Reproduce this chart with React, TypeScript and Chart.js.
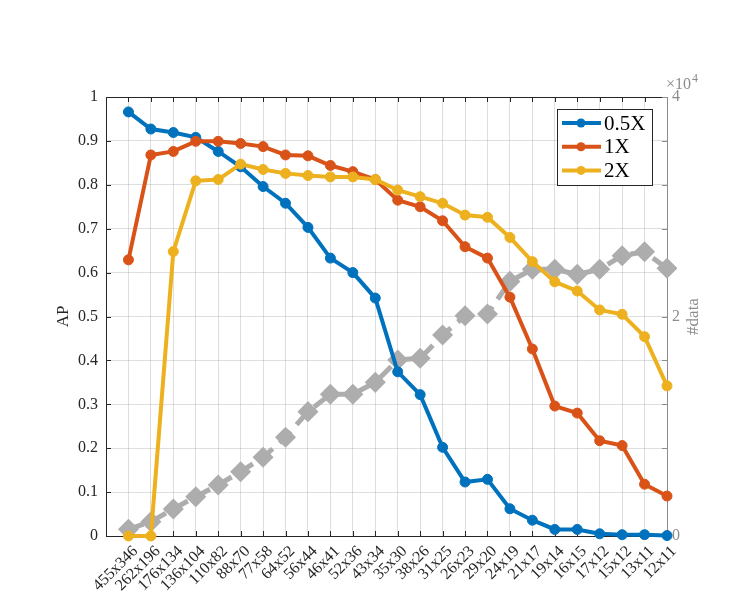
import React, { useEffect, useRef } from 'react';
import { Chart, registerables } from 'chart.js';

Chart.register(...registerables);

const categories = [
  '455x346', '262x196', '176x134', '136x104', '110x82', '88x70', '77x58', '64x52',
  '56x44', '46x41', '52x36', '43x34', '35x30', '38x26', '31x25', '26x23', '29x20',
  '24x19', '21x17', '19x14', '16x15', '17x12', '15x12', '13x11', '12x11',
];

const ap05 = [0.966, 0.927, 0.919, 0.908, 0.876, 0.841, 0.796, 0.758, 0.703, 0.633, 0.600, 0.542,
  0.374, 0.322, 0.202, 0.123, 0.129, 0.062, 0.036, 0.015, 0.015, 0.005, 0.003, 0.003, 0.001];
const ap1 = [0.629, 0.868, 0.876, 0.899, 0.899, 0.894, 0.887, 0.868, 0.866, 0.844, 0.830, 0.812,
  0.765, 0.750, 0.718, 0.659, 0.633, 0.544, 0.426, 0.296, 0.280, 0.217, 0.206, 0.118, 0.091];
const ap2 = [0.0, 0.0, 0.648, 0.809, 0.812, 0.847, 0.835, 0.826, 0.821, 0.818, 0.818, 0.812,
  0.788, 0.773, 0.758, 0.731, 0.726, 0.680, 0.625, 0.579, 0.558, 0.515, 0.505, 0.454, 0.342];
// number of samples, in units of 1e4
const numData = [0.061, 0.130, 0.246, 0.358, 0.465, 0.586, 0.717, 0.899, 1.133, 1.291, 1.291, 1.400,
  1.604, 1.619, 1.831, 2.007, 2.023, 2.320, 2.430, 2.430, 2.384, 2.430, 2.554, 2.590, 2.439];

const seriesNames = ['0.5X', '1X', '2X'];
const seriesColors = ['#0072BD', '#D95319', '#EDB120'];
const grayColor = '#adadad';
const rightTickLabels = [0, 2, 4];

const FONT = "'Liberation Serif', 'Times New Roman', serif";

const toPoints = (arr: number[]) => arr.map((v, i) => ({ x: i, y: v }));

const decorPlugin = {
  id: 'decor',
  beforeDatasetsDraw(chart: any) {
    const { ctx, chartArea: a, scales } = chart;
    const xs = scales.x, ys = scales.y, y2 = scales.y2;
    ctx.save();
    ctx.lineWidth = 1;
    ctx.strokeStyle = '#262626';
    ctx.beginPath();
    ys.ticks.forEach((t: any) => {
      const py = Math.round(ys.getPixelForValue(t.value)) + 0.5;
      ctx.moveTo(a.left, py); ctx.lineTo(a.left + 5, py);
    });
    for (let i = 0; i < categories.length; i++) {
      const px = Math.round(xs.getPixelForValue(i)) + 0.5;
      ctx.moveTo(px, a.top); ctx.lineTo(px, a.top + 5);
      ctx.moveTo(px, a.bottom); ctx.lineTo(px, a.bottom - 5);
    }
    ctx.stroke();
    ctx.beginPath();
    ctx.moveTo(Math.round(a.right) + 0.5, Math.round(a.top) + 0.5);
    ctx.lineTo(Math.round(a.left) + 0.5, Math.round(a.top) + 0.5);
    ctx.lineTo(Math.round(a.left) + 0.5, Math.round(a.bottom) + 0.5);
    ctx.lineTo(Math.round(a.right) + 0.5, Math.round(a.bottom) + 0.5);
    ctx.stroke();
    ctx.strokeStyle = '#8c8c8c';
    ctx.beginPath();
    ctx.moveTo(Math.round(a.right) + 0.5, a.top);
    ctx.lineTo(Math.round(a.right) + 0.5, a.bottom);
    y2.ticks.forEach((t: any) => {
      const py = Math.round(y2.getPixelForValue(t.value)) + 0.5;
      ctx.moveTo(a.right, py); ctx.lineTo(a.right - 5, py);
    });
    ctx.stroke();
    ctx.restore();
  },
  afterDraw(chart: any) {
    const { ctx, chartArea: a } = chart;
    ctx.save();
    ctx.fillStyle = '#262626';
    ctx.font = `17px ${FONT}`;
    ctx.textAlign = 'center';
    ctx.textBaseline = 'middle';
    ctx.translate(64, (a.top + a.bottom) / 2);
    ctx.rotate(-Math.PI / 2);
    ctx.fillText('AP', 0, 0);
    ctx.restore();

    ctx.save();
    ctx.fillStyle = '#8c8c8c';
    ctx.font = `17px ${FONT}`;
    ctx.textAlign = 'center';
    ctx.textBaseline = 'middle';
    ctx.translate(694, (a.top + a.bottom) / 2);
    ctx.rotate(-Math.PI / 2);
    ctx.fillText('#data', 0, 0);
    ctx.restore();

    ctx.save();
    ctx.fillStyle = '#8c8c8c';
    ctx.font = `16px ${FONT}`;
    ctx.textAlign = 'left';
    ctx.textBaseline = 'alphabetic';
    ctx.fillText('\u00d710', a.right - 1, a.top - 8);
    const w = ctx.measureText('\u00d710').width;
    ctx.font = `12px ${FONT}`;
    ctx.fillText('4', a.right - 1 + w + 1, a.top - 15);
    ctx.restore();

    ctx.save();
    const bx = a.right - 110, by = a.top + 12, bw = 95, bh = 76;
    ctx.fillStyle = '#ffffff';
    ctx.fillRect(bx, by, bw, bh);
    ctx.strokeStyle = '#262626';
    ctx.lineWidth = 1;
    ctx.strokeRect(Math.round(bx) + 0.5, Math.round(by) + 0.5, bw, bh);
    seriesNames.forEach((name, i) => {
      const cy = by + 14 + i * 23.7;
      ctx.strokeStyle = seriesColors[i];
      ctx.fillStyle = seriesColors[i];
      ctx.lineWidth = 4;
      ctx.beginPath();
      ctx.moveTo(bx + 5, cy); ctx.lineTo(bx + 44, cy);
      ctx.stroke();
      ctx.beginPath();
      ctx.arc(bx + 24, cy, 4.5, 0, Math.PI * 2);
      ctx.fill();
      ctx.fillStyle = '#000000';
      ctx.font = `21px ${FONT}`;
      ctx.textAlign = 'left';
      ctx.textBaseline = 'middle';
      ctx.fillText(name, bx + 47, cy + 1);
    });
    ctx.restore();
  },
};

export default function App() {
  const canvasRef = useRef<HTMLCanvasElement | null>(null);

  useEffect(() => {
    if (!canvasRef.current) return;
    const lineDs = (label: string, data: number[], color: string) => ({
      label,
      data: toPoints(data),
      yAxisID: 'y',
      borderColor: color,
      backgroundColor: color,
      pointBackgroundColor: color,
      pointBorderColor: color,
      borderWidth: 4,
      pointRadius: 5,
      pointBorderWidth: 1,
      tension: 0,
      clip: 10,
    });
    const chart = new Chart(canvasRef.current, {
      type: 'line',
      data: {
        datasets: [
          lineDs(seriesNames[2], ap2, seriesColors[2]),
          lineDs(seriesNames[1], ap1, seriesColors[1]),
          lineDs(seriesNames[0], ap05, seriesColors[0]),
          {
            label: '#data',
            data: toPoints(numData),
            yAxisID: 'y2',
            borderColor: grayColor,
            backgroundColor: grayColor,
            pointBackgroundColor: grayColor,
            pointBorderColor: grayColor,
            borderWidth: 5,
            borderDash: [16, 9],
            pointStyle: 'rectRot',
            pointRadius: 7,
            tension: 0,
            clip: 10,
          },
        ],
      },
      options: {
        animation: false,
        responsive: false,
        maintainAspectRatio: false,
        layout: { padding: { top: 97, left: 0, right: 0, bottom: 0 } },
        plugins: { legend: { display: false }, tooltip: { enabled: false } },
        scales: {
          x: {
            type: 'linear',
            min: -1,
            max: categories.length - 1,
            afterFit: (s: any) => { s.height = 80; },
            afterBuildTicks: (s: any) => {
              const t = [];
              for (let i = -1; i < categories.length; i++) t.push({ value: i });
              s.ticks = t;
            },
            ticks: {
              autoSkip: false,
              maxRotation: 45,
              minRotation: 45,
              padding: 6,
              labelOffset: 7,
              color: '#262626',
              font: { family: FONT, size: 16 },
              callback: (v: any) => (v >= 0 && v < categories.length ? categories[v] : ''),
            },
            grid: { color: 'rgba(0,0,0,0.13)', lineWidth: 1, drawTicks: false },
            border: { display: false },
          },
          y: {
            position: 'left',
            min: 0,
            max: 1,
            afterFit: (s: any) => { s.width = 106; },
            ticks: {
              stepSize: 0.1,
              padding: 8,
              color: '#262626',
              font: { family: FONT, size: 16 },
              callback: (v: any) => String(Math.round(v * 10) / 10),
            },
            grid: { color: 'rgba(0,0,0,0.13)', lineWidth: 1, drawTicks: false },
            border: { display: false },
          },
          y2: {
            position: 'right',
            min: 0,
            max: 4,
            afterFit: (s: any) => { s.width = 84; },
            ticks: {
              stepSize: 0.4,
              padding: 5,
              color: '#8c8c8c',
              font: { family: FONT, size: 16 },
              callback: (v: any) => {
                const r = Math.round(v);
                return Math.abs(v - r) < 1e-6 && rightTickLabels.includes(r) ? String(r) : '';
              },
            },
            grid: { display: false, drawTicks: false },
            border: { display: false },
          },
        },
      },
      plugins: [decorPlugin],
    } as any);
    return () => chart.destroy();
  }, []);

  return (
    <div style={{ position: 'fixed', left: 0, top: 0, width: 751, height: 616, background: '#fff' }}>
      <canvas ref={canvasRef} width={751} height={616} style={{ width: 751, height: 616 }} />
    </div>
  );
}
